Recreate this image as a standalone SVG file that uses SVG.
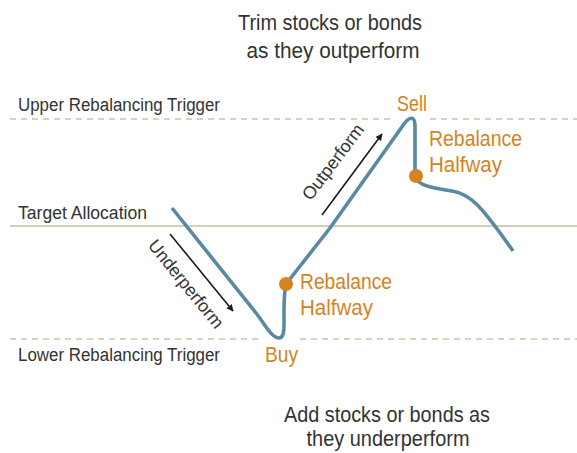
<svg xmlns="http://www.w3.org/2000/svg" width="577" height="453" viewBox="0 0 577 453">
  <defs>
    <marker id="head" viewBox="0 0 10 10" refX="9" refY="5" markerWidth="7" markerHeight="7" markerUnits="userSpaceOnUse" orient="auto">
      <path d="M0,0 L10,5 L0,10 Z" fill="#1a1a1a"/>
    </marker>
    <style>
      .lbl { font-family: "Liberation Sans", Arial, sans-serif; fill: #333333; }
      .side { font-size: 18px; }
      .note { font-size: 22px; }
      .mark { font-family: "Liberation Sans", Arial, sans-serif; font-size: 22.5px; fill: #D4831E; }
      .trig { stroke: #CBC6A6; stroke-width: 1.3; stroke-dasharray: 6 5; fill: none; }
      .target { stroke: #C4BF9E; stroke-width: 1.6; fill: none; }
      .price { stroke: #5A89A3; stroke-width: 3.6; fill: none; stroke-linecap: butt; stroke-linejoin: round; }
      .dir { stroke: #1a1a1a; stroke-width: 1.6; fill: none; }
      .dot { fill: #D4831E; }
    </style>
  </defs>

  <!-- reference levels -->
  <g id="levels">
    <line class="trig" x1="10" y1="119" x2="390" y2="119"/>
    <line class="trig" x1="430" y1="119" x2="577" y2="119"/>
    <line class="target" x1="10" y1="226" x2="577" y2="226"/>
    <line class="trig" x1="10" y1="339" x2="258" y2="339"/>
    <line class="trig" x1="300" y1="339" x2="577" y2="339"/>
  </g>

  <!-- level labels -->
  <g id="level-labels" class="lbl side">
    <text x="18" y="111" textLength="202" lengthAdjust="spacingAndGlyphs">Upper Rebalancing Trigger</text>
    <text x="18" y="219" textLength="129" lengthAdjust="spacingAndGlyphs">Target Allocation</text>
    <text x="18" y="361" textLength="202" lengthAdjust="spacingAndGlyphs">Lower Rebalancing Trigger</text>
  </g>

  <!-- captions -->
  <g id="caption-top" class="lbl note" text-anchor="middle">
    <text x="330" y="30" textLength="184" lengthAdjust="spacingAndGlyphs">Trim stocks or bonds</text>
    <text x="333" y="58" textLength="173" lengthAdjust="spacingAndGlyphs">as they outperform</text>
  </g>
  <g id="caption-bottom" class="lbl note" text-anchor="middle">
    <text x="387" y="422" textLength="206" lengthAdjust="spacingAndGlyphs">Add stocks or bonds as</text>
    <text x="388" y="446" textLength="163" lengthAdjust="spacingAndGlyphs">they underperform</text>
  </g>

  <!-- portfolio path -->
  <g id="connectors">
    <path class="price" d="M172,208 L256,313 C266,326 272,338 279,338 C285,338 284,326 284,314 C284,300 284,292 286,284 L330,228 L404,124 C410,116 415,116 415,126 L415,176 C418,186 432,188 452,191 C470,194 480,204 513,251"/>
    <line class="dir" x1="170" y1="234" x2="233" y2="311" marker-end="url(#head)"/>
    <line class="dir" x1="322" y1="215" x2="382" y2="134" marker-end="url(#head)"/>
  </g>

  <g id="underperform" class="lbl side">
    <text transform="translate(186,284) rotate(51)" y="6" text-anchor="middle" textLength="108" lengthAdjust="spacingAndGlyphs">Underperform</text>
  </g>
  <g id="outperform" class="lbl side">
    <text transform="translate(333,162) rotate(-53)" y="6" text-anchor="middle" textLength="90" lengthAdjust="spacingAndGlyphs">Outperform</text>
  </g>

  <!-- rebalance points -->
  <g id="buy">
    <text class="mark" x="265" y="362" textLength="33" lengthAdjust="spacingAndGlyphs">Buy</text>
  </g>
  <g id="sell">
    <text class="mark" x="397" y="111" textLength="30" lengthAdjust="spacingAndGlyphs">Sell</text>
  </g>
  <g id="rebalance-low">
    <circle class="dot" cx="286" cy="284" r="7"/>
    <text class="mark" x="300" y="289" textLength="92" lengthAdjust="spacingAndGlyphs">Rebalance</text>
    <text class="mark" x="300" y="315" textLength="73" lengthAdjust="spacingAndGlyphs">Halfway</text>
  </g>
  <g id="rebalance-high">
    <circle class="dot" cx="416" cy="176" r="7"/>
    <text class="mark" x="429" y="146" textLength="93" lengthAdjust="spacingAndGlyphs">Rebalance</text>
    <text class="mark" x="429" y="172" textLength="73" lengthAdjust="spacingAndGlyphs">Halfway</text>
  </g>
</svg>
